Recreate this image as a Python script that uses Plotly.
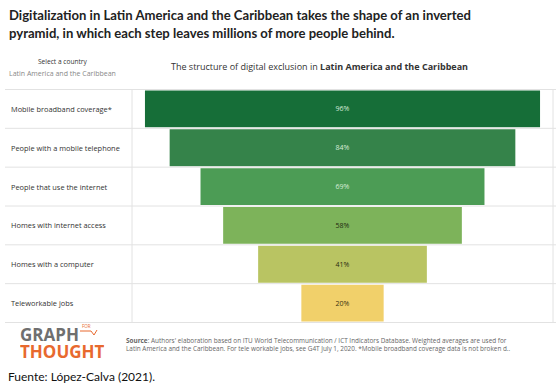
import plotly.graph_objects as go

categories = ["Mobile broadband coverage*", "People with a mobile telephone",
              "People that use the internet", "Homes with internet access",
              "Homes with a computer", "Teleworkable jobs"]
values = [96, 84, 69, 58, 41, 20]
bar_colors = ["#166e38", "#35834a", "#4c9c55", "#7db35a", "#b9c462", "#f1d06a"]
text_colors = ["#d8ecd8", "#d8ecd8", "#d8ecd8", "#1e2a10", "#2a2a10", "#3a3010"]

title_lines = ["Digitalization in Latin America and the Caribbean takes the shape of an inverted",
               "pyramid, in which each step leaves millions of more people behind."]

W, H = 559, 387
L, R, T, B = 132, 6, 89, 64
FONT = "Open Sans"
TFONT = "Lato"

fig = go.Figure()
fig.add_trace(go.Bar(
    y=categories, x=values, base=[-v / 2 for v in values], orientation="h",
    marker=dict(color=bar_colors, line=dict(width=0)),
    text=[f"{v}%" for v in values], textposition="inside", insidetextanchor="middle",
    textfont=dict(family=FONT, size=7, color=text_colors), textangle=0,
    hoverinfo="skip",
))


def px(xp):
    return (xp - L) / (W - L - R)


def py(yp):
    return 1 - (yp - T) / (H - T - B)


shapes = []
line_col = "#e2e2e2"
for k in range(len(categories) + 1):
    shapes.append(dict(type="line", xref="paper", yref="y",
                       x0=px(5), x1=px(556),
                       y0=k - 0.5, y1=k - 0.5, line=dict(color=line_col, width=1)))
shapes.append(dict(type="line", xref="paper", yref="paper", x0=0, x1=0, y0=0, y1=1,
                   line=dict(color=line_col, width=1)))
shapes.append(dict(type="line", xref="paper", yref="paper", x0=1, x1=1, y0=0, y1=1,
                   line=dict(color=line_col, width=1)))

annotations = []
for i, c in enumerate(categories):
    annotations.append(dict(xref="paper", yref="y", x=px(9), y=i,
                            text=c, showarrow=False, xanchor="left",
                            font=dict(family=FONT, size=7.4, color="#333333")))

annotations += [
    dict(xref="paper", yref="paper", x=px(7), y=py(14.5),
         text="<b>" + title_lines[0] + "</b>",
         showarrow=False, xanchor="left", yanchor="middle", align="left",
         font=dict(family=TFONT, size=13.1, color="#222222")),
    dict(xref="paper", yref="paper", x=px(7), y=py(33.5),
         text="<b>" + title_lines[1] + "</b>",
         showarrow=False, xanchor="left", yanchor="middle", align="left",
         font=dict(family=TFONT, size=13.1, color="#222222")),
    dict(xref="paper", yref="paper", x=px(63), y=py(62), text="Select a country",
         showarrow=False, xanchor="center", yanchor="middle",
         font=dict(family=FONT, size=6.6, color="#333333")),
    dict(xref="paper", yref="paper", x=px(62), y=py(73), text="Latin America and the Caribbean",
         showarrow=False, xanchor="center", yanchor="middle",
         font=dict(family=FONT, size=7, color="#888888")),
    dict(xref="paper", yref="paper", x=px(169), y=py(67),
         text="The structure of digital exclusion in <b>Latin America and the Caribbean</b>",
         showarrow=False, xanchor="left", yanchor="middle",
         font=dict(family=FONT, size=9, color="#333333")),
    dict(xref="paper", yref="paper", x=px(18), y=py(334), text="<b>GRAPH</b>",
         showarrow=False, xanchor="left", yanchor="middle", height=15, valign="middle",
         font=dict(family=FONT, size=17, color="#6f6f6f")),
    dict(xref="paper", yref="paper", x=px(80), y=py(326), text="FOR",
         showarrow=False, xanchor="left", yanchor="middle",
         font=dict(family=FONT, size=4.5, color="#e8692e")),
    dict(xref="paper", yref="paper", x=px(18), y=py(351), text="<b>THOUGHT</b>",
         showarrow=False, xanchor="left", yanchor="middle", height=15, valign="middle",
         font=dict(family=FONT, size=17, color="#e8692e")),
    dict(xref="paper", yref="paper", x=px(124), y=py(344),
         text="<b>Source</b>: Authors' elaboration based on ITU World Telecommunication / ICT Indicators Database. Weighted averages are used for<br>Latin America and the Caribbean. For tele workable jobs, see G4T July 1, 2020. *Mobile broadband coverage data is not broken d..",
         showarrow=False, xanchor="left", yanchor="middle", align="left",
         font=dict(family=FONT, size=6.4, color="#666666")),
    dict(xref="paper", yref="paper", x=px(6), y=py(376), text="Fuente: López-Calva (2021).",
         showarrow=False, xanchor="left", yanchor="middle",
         font=dict(family=TFONT, size=12, color="#111111")),
]

# small logo line next to FOR
shapes.append(dict(type="path", xref="paper", yref="paper",
                   path=f"M {px(80)},{py(331)} L {px(91)},{py(331)} L {px(94)},{py(335)} L {px(97)},{py(330)}",
                   line=dict(color="#e8692e", width=1)))

fig.update_layout(
    width=W, height=H, margin=dict(l=L, r=R, t=T, b=B),
    paper_bgcolor="white", plot_bgcolor="white",
    xaxis=dict(range=[-51.15, 51.15], visible=False, fixedrange=True),
    yaxis=dict(categoryorder="array", categoryarray=categories, autorange="reversed",
               visible=False, fixedrange=True),
    bargap=0.05, showlegend=False,
    shapes=shapes, annotations=annotations,
    font=dict(family=FONT),
)

fig.write_html("out.html", config={"displayModeBar": False},
               post_script="document.body.style.margin='0';document.body.style.overflow='hidden';")
